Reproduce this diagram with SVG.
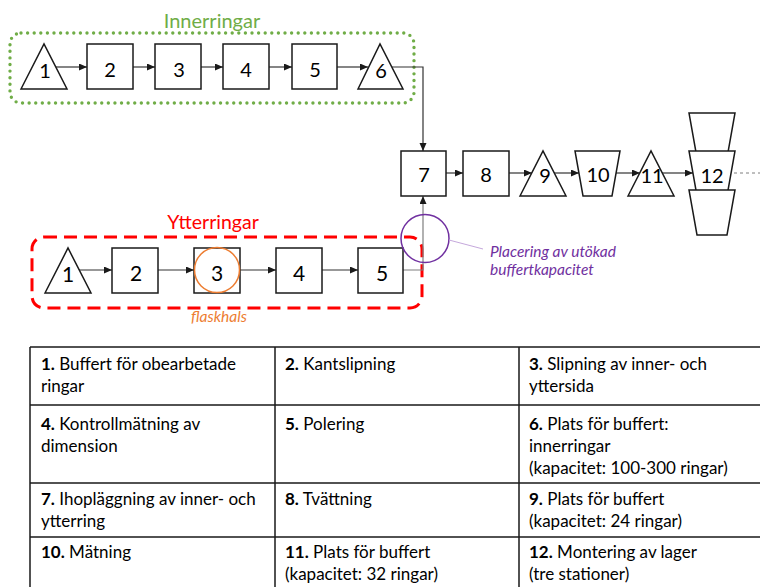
<svg xmlns="http://www.w3.org/2000/svg" width="760" height="587" viewBox="0 0 760 587">
  <style>
    .shape { fill: #ffffff; stroke: #1a1a1a; stroke-width: 1.5; }
    .num { font-family: Lato, "Open Sans", sans-serif; font-size: 20px; fill: #000; text-anchor: middle; }
    .num-lg { font-size: 21px; }
    .flow { fill: none; stroke: #333333; stroke-width: 1.2; marker-end: url(#arrow); }
    .feed { fill: none; stroke: #7f7f7f; stroke-width: 1.2; marker-end: url(#arrow); }
    .title { font-family: Lato, "Open Sans", sans-serif; font-size: 20px; text-anchor: middle; }
    .note { font-family: Lato, "Open Sans", sans-serif; font-style: italic; font-size: 15.5px; }
    .cell { font-family: Lato, "Open Sans", sans-serif; font-size: 17px; fill: #000; }
    .cell tspan.b { font-weight: bold; }
    .grid { stroke: #1a1a1a; stroke-width: 1.5; fill: none; }
  </style>
  <defs>
    <marker id="arrow" markerUnits="userSpaceOnUse" markerWidth="9" markerHeight="8" refX="8" refY="3.5" orient="auto">
      <path d="M0,0 L8,3.5 L0,7 z" fill="#1a1a1a"/>
    </marker>
  </defs>

  <rect width="760" height="587" fill="#ffffff"/>

  <!-- group frames -->
  <g id="inner-ring-group">
    <rect x="10" y="33" width="404" height="70" rx="11" fill="none" stroke="#70ad47" stroke-width="3.4" stroke-linecap="round" stroke-dasharray="0 6.6"/>
    <text class="title" x="212" y="28" fill="#70ad47">Innerringar</text>
  </g>
  <g id="outer-ring-group">
    <rect x="32" y="237" width="390" height="71" rx="12" fill="none" stroke="#ff0000" stroke-width="3" stroke-dasharray="13 7"/>
    <text class="title" x="213" y="229" fill="#ff0000" style="font-size:19.5px">Ytterringar</text>
  </g>

  <!-- connectors -->
  <g id="connectors">
    <path class="flow" d="M56,67 H87"/>
    <path class="flow" d="M133,67 H155"/>
    <path class="flow" d="M201,67 H223"/>
    <path class="flow" d="M269,67 H292"/>
    <path class="flow" d="M337,67 H368"/>
    <path class="flow" d="M392,67 H423 V151"/>
    <path class="flow" d="M79,270 H112"/>
    <path class="flow" d="M158,270 H194"/>
    <path class="flow" d="M240,270 H276"/>
    <path class="flow" d="M322,270 H358"/>
    <path class="feed" d="M403,270 H423 V196"/>
    <path class="flow" d="M446,173 H463"/>
    <path class="flow" d="M509,173 H532"/>
    <path class="flow" d="M554,173 H579"/>
    <path class="flow" d="M616,173 H640"/>
    <path class="flow" d="M662,173 H693"/>
    <path d="M728,173 H760" fill="none" stroke="#7f7f7f" stroke-width="1" stroke-dasharray="3 3"/>
  </g>

  <!-- inner ring line -->
  <g id="in-1"><path class="shape" d="M21,89 L44,44 L67,89 Z"/><text class="num" x="45" y="78">1</text></g>
  <g id="in-2"><rect class="shape" x="87" y="44" width="46" height="45"/><text class="num" x="110" y="77">2</text></g>
  <g id="in-3"><rect class="shape" x="155" y="44" width="46" height="45"/><text class="num" x="179" y="77">3</text></g>
  <g id="in-4"><rect class="shape" x="223" y="44" width="46" height="45"/><text class="num" x="246" y="77">4</text></g>
  <g id="in-5"><rect class="shape" x="292" y="44" width="45" height="45"/><text class="num" x="315" y="77">5</text></g>
  <g id="in-6"><path class="shape" d="M358,89 L380,44 L403,89 Z"/><text class="num" x="381" y="78">6</text></g>

  <!-- outer ring line -->
  <g id="out-1"><path class="shape" d="M45,293 L68,248 L91,293 Z"/><text class="num num-lg" x="68" y="282">1</text></g>
  <g id="out-2"><rect class="shape" x="112" y="248" width="46" height="45"/><text class="num num-lg" x="136" y="281">2</text></g>
  <g id="out-3"><rect class="shape" x="194" y="248" width="46" height="45"/><text class="num num-lg" x="217" y="281">3</text></g>
  <g id="out-4"><rect class="shape" x="276" y="248" width="46" height="45"/><text class="num num-lg" x="299" y="281">4</text></g>
  <g id="out-5"><rect class="shape" x="358" y="248" width="45" height="45"/><text class="num num-lg" x="382" y="281">5</text></g>

  <!-- assembly line -->
  <g id="st-7"><rect class="shape" x="401" y="151" width="45" height="45"/><text class="num" x="424" y="182">7</text></g>
  <g id="st-8"><rect class="shape" x="463" y="151" width="46" height="45"/><text class="num" x="486" y="182">8</text></g>
  <g id="st-9"><path class="shape" d="M520,196 L543,151 L566,196 Z"/><text class="num" x="545" y="183">9</text></g>
  <g id="st-10"><path class="shape" d="M575,151 H620 L612,196 H583 Z"/><text class="num" x="598" y="182">10</text></g>
  <g id="st-11"><path class="shape" d="M628,196 L651,151 L674,196 Z"/><text class="num" x="652" y="183">11</text></g>
  <g id="st-12">
    <path class="shape" d="M689,113 H735 L727,158 H697 Z"/>
    <path class="shape" d="M689,151 H735 L727,196 H697 Z"/>
    <path class="shape" d="M689,190 H735 L727,235 H697 Z"/>
    <text class="num" x="712" y="183">12</text>
  </g>

  <!-- annotations -->
  <g id="bottleneck">
    <circle cx="217" cy="270" r="22.5" fill="none" stroke="#ed7d31" stroke-width="1.5"/>
    <text class="note" x="219" y="322" fill="#ed7d31" text-anchor="middle">flaskhals</text>
  </g>
  <g id="buffer-note">
    <circle cx="425" cy="238.5" r="24" fill="none" stroke="#7030a0" stroke-width="1.5"/>
    <path d="M449,240 L483,249" stroke="#c5a8dc" stroke-width="1" fill="none"/>
    <text class="note" x="490" y="257" fill="#7030a0">Placering av utökad</text>
    <text class="note" x="490" y="275" fill="#7030a0">buffertkapacitet</text>
  </g>

  <!-- legend table -->
  <g id="legend">
    <path class="grid" d="M30,347 H762 M30,405 H762 M30,483 H762 M30,537 H762 M30,347 V590 M275,347 V590 M519,347 V590"/>
    <text class="cell" x="41" y="370"><tspan class="b">1.</tspan> Buffert för obearbetade</text>
    <text class="cell" x="41" y="392">ringar</text>
    <text class="cell" x="285" y="370"><tspan class="b">2.</tspan> Kantslipning</text>
    <text class="cell" x="529" y="370"><tspan class="b">3.</tspan> Slipning av inner- och</text>
    <text class="cell" x="529" y="392">yttersida</text>

    <text class="cell" x="41" y="430"><tspan class="b">4.</tspan> Kontrollmätning av</text>
    <text class="cell" x="41" y="452">dimension</text>
    <text class="cell" x="285" y="430"><tspan class="b">5.</tspan> Polering</text>
    <text class="cell" x="529" y="430"><tspan class="b">6.</tspan> Plats för buffert:</text>
    <text class="cell" x="529" y="452">innerringar</text>
    <text class="cell" x="529" y="474">(kapacitet: 100-300 ringar)</text>

    <text class="cell" x="41" y="505"><tspan class="b">7.</tspan> Ihopläggning av inner- och</text>
    <text class="cell" x="41" y="527">ytterring</text>
    <text class="cell" x="285" y="505"><tspan class="b">8.</tspan> Tvättning</text>
    <text class="cell" x="529" y="505"><tspan class="b">9.</tspan> Plats för buffert</text>
    <text class="cell" x="529" y="527">(kapacitet: 24 ringar)</text>

    <text class="cell" x="41" y="558"><tspan class="b">10.</tspan> Mätning</text>
    <text class="cell" x="285" y="558"><tspan class="b">11.</tspan> Plats för buffert</text>
    <text class="cell" x="285" y="580">(kapacitet: 32 ringar)</text>
    <text class="cell" x="529" y="558"><tspan class="b">12.</tspan> Montering av lager</text>
    <text class="cell" x="529" y="580">(tre stationer)</text>
  </g>
</svg>
